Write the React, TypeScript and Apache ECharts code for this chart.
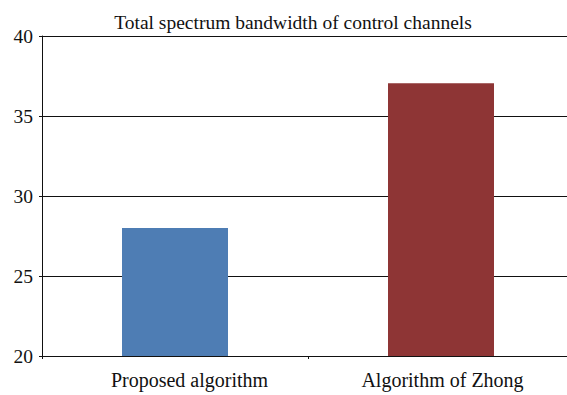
import React, { useEffect, useRef } from "react";
import * as echarts from "echarts";

const categories = ["Proposed algorithm", "Algorithm of Zhong"];
const values = [28.0, 37.05];
const barColors = ["#4E7DB4", "#8E3535"];
const yTicks = { min: 20, max: 40, interval: 5 };
const titleText = "Total spectrum bandwidth of control channels";

export default function App() {
  const ref = useRef<HTMLDivElement>(null);
  useEffect(() => {
    if (!ref.current) return;
    const chart = echarts.init(ref.current, undefined, { renderer: "svg" });
    const font = "'Liberation Serif', 'DejaVu Serif', serif";
    chart.setOption({
      animation: false,
      backgroundColor: "#ffffff",
      title: {
        text: titleText,
        left: 288,
        textAlign: "center",
        top: 7,
        textStyle: { fontFamily: font, fontSize: 19.5, fontWeight: "normal", color: "#111" },
      },
      grid: { left: 42, right: 2, top: 36, bottom: 39, containLabel: false },
      xAxis: {
        type: "category",
        data: categories.map((c, i) =>
          i === 0 ? { value: c, textStyle: { padding: [0, 0, 0, 29] } } : { value: c, textStyle: { padding: [0, 0, 0, 3] } }
        ),
        axisLine: { lineStyle: { color: "#111", width: 1 } },
        axisTick: { show: true, length: 3, lineStyle: { color: "#111" } },
        axisLabel: { fontFamily: font, fontSize: 20, color: "#111", margin: 14 },
      },
      yAxis: {
        type: "value",
        min: yTicks.min,
        max: yTicks.max,
        interval: yTicks.interval,
        axisLine: { show: true, lineStyle: { color: "#111", width: 1 } },
        axisTick: { show: true, length: 3, lineStyle: { color: "#111" } },
        splitLine: { show: true, lineStyle: { color: "#111", width: 1 } },
        axisLabel: { fontFamily: font, fontSize: 19.5, color: "#111", margin: 9 },
      },
      series: [
        {
          type: "bar",
          barWidth: 106,
          data: values.map((v, i) => ({ value: v, itemStyle: { color: barColors[i] } })),
        },
      ],
    });
    return () => chart.dispose();
  }, []);
  return (
    <div style={{ position: "absolute", left: 0, top: 0, width: 567, height: 395, overflow: "hidden" }}>
      <div ref={ref} style={{ width: 576, height: 395 }} />
    </div>
  );
}
